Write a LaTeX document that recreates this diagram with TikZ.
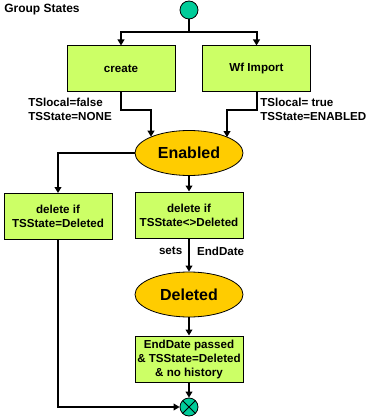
\documentclass[tikz,border=0pt]{standalone}
\usepackage{fontspec}
\setmainfont{Liberation Sans}
\usetikzlibrary{positioning,arrows.meta,shapes.geometric}
\definecolor{boxgreen}{HTML}{CCFF66}
\definecolor{ovalyellow}{HTML}{FFCC00}
\definecolor{dotgreen}{HTML}{00CC99}

\begin{document}
\begin{tikzpicture}[x=0.75pt, y=-0.75pt,
    every node/.style={font=\bfseries\fontsize{8.7}{10.5}\selectfont},
    statebox/.style={draw=black, line width=0.75pt, fill=boxgreen, minimum width=81pt, minimum height=34.5pt, align=center, inner sep=1pt},
    stateoval/.style={ellipse, draw=black, line width=0.6pt, fill=ovalyellow, minimum width=81pt, minimum height=33.75pt, inner sep=0pt, font=\bfseries\fontsize{12}{14}\selectfont},
    dot/.style={circle, draw=black, line width=0.6pt, fill=dotgreen, minimum size=13.5pt, inner sep=0pt},
    flow/.style={line width=1.5pt, -{Triangle[length=4.5pt,width=5pt]}},
    note/.style={align=left, inner sep=0pt}]
    \useasboundingbox (0,0) rectangle (374,420);

    % Title
    \node[anchor=west, inner sep=0pt, font=\bfseries\fontsize{9}{11}\selectfont] (title) at (4,9.5) {Group States};

    % Start
    \node[dot] (start) at (189,10) {};
    \coordinate (split) at (189,32);

    % Creation
    \node[statebox] (create) at (121,69) {create};
    \node[statebox] (wfimport) at (256.5,69) {Wf Import};
    \node[note, anchor=west] (lblcreate) at (28,109) {TSlocal=false\\TSState=NONE};
    \node[note, anchor=west] (lblimport) at (260,109) {TSlocal= true\\TSState=ENABLED};
    \coordinate (joinL) at (151,110);
    \coordinate (joinR) at (227,110);

    % States
    \node[stateoval] (enabled) at (189,153) {Enabled};
    \node[statebox] (delleft) at (58,216.5) {delete if\\TSState=Deleted};
    \node[statebox] (delmid) at (189,215) {delete if\\TSState<>Deleted};
    \node[stateoval] (deleted) at (189,294.5) {Deleted};
    \node[statebox] (purge) at (189,359) {EndDate passed\\\& TSState=Deleted\\\& no history};

    % End
    \node[dot, path picture={
        \draw[line width=0.6pt] (path picture bounding box.north west) -- (path picture bounding box.south east);
        \draw[line width=0.6pt] (path picture bounding box.north east) -- (path picture bounding box.south west);}] (final) at (189,407) {};

    % Connectors
    \draw[line width=1.5pt] (start) -- (split);
    \draw[flow] (split) -| (create);
    \draw[flow] (split) -| (wfimport);
    \draw[flow] (create) |- (joinL) -- (joinL |- enabled.157.2);
    \draw[flow] (wfimport) |- (joinR) -- (joinR |- enabled.22.8);
    \draw[flow] (enabled.west) -| (delleft);
    \draw[flow] (enabled) -- (delmid);
    \draw[flow] (delmid) -- node[pos=0.38, left=1pt]{sets} node[pos=0.38, right=2pt]{EndDate} (deleted);
    \draw[flow] (deleted) -- (purge);
    \draw[flow] (purge) -- (final);
    \draw[flow] (delleft) |- (final);
\end{tikzpicture}
\end{document}
